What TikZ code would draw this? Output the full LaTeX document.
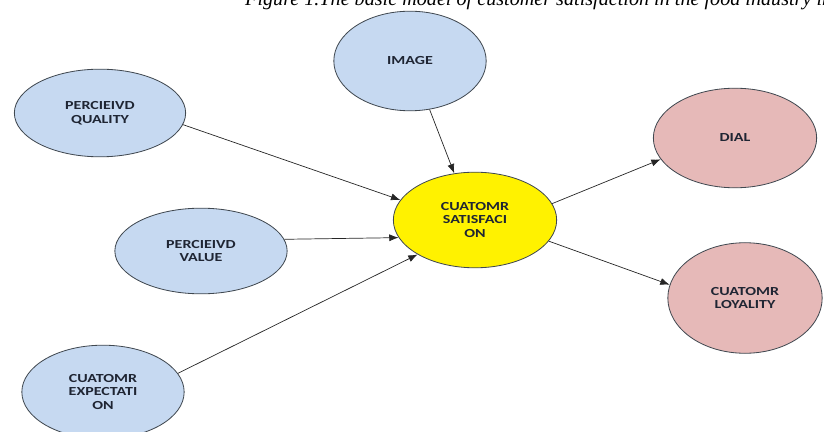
\documentclass[tikz,border=0pt]{standalone}
\usepackage{fontspec}
\setmainfont{Carlito}
\newfontfamily\bubblefont[FakeStretch=1.3]{Carlito}
\newfontfamily\capfont{Liberation Serif}
\usetikzlibrary{shapes.geometric,arrows.meta}
\definecolor{bubbleblue}{HTML}{C6D9F1}
\definecolor{bubblepink}{HTML}{E6B9B8}
\definecolor{rimgray}{HTML}{404850}
\definecolor{inkblue}{HTML}{1F2533}

\begin{document}
\begin{tikzpicture}[x=0.03cm,y=-0.03cm,
    bubble/.style={ellipse,draw=rimgray,line width=0.7pt,align=center,
      text=inkblue,font=\bubblefont\fontsize{10.5}{11.8}\selectfont\bfseries,inner sep=0pt},
    cause/.style={bubble,fill=bubbleblue},
    effect/.style={bubble,fill=bubblepink},
    link/.style={-{Latex[length=8pt,width=6pt]},line width=0.6pt,draw=black!85}]
            \useasboundingbox (0,0) rectangle (824,432);
            \node (cap) at (245,6) [anchor=base west,inner sep=0pt,font=\capfont\itshape\fontsize{17.2}{20}\selectfont] {Figure 1.The basic model of customer satisfaction in the food industry in};
            \node (qual) at (100,113) [cause,minimum width=172*0.85pt,minimum height=88*0.85pt] {PERCIEIVD\\QUALITY};
            \node (img) at (410,61) [cause,minimum width=153*0.85pt,minimum height=100*0.85pt] {IMAGE};
            \node (val) at (201,251) [cause,minimum width=173*0.85pt,minimum height=86*0.85pt] {PERCIEIVD\\VALUE};
            \node (expt) at (103,392) [cause,minimum width=163*0.85pt,minimum height=94*0.85pt] {CUATOMR\\EXPECTATI\\ON};
            \node (sat) at (475,220) [bubble,fill=yellow,minimum width=164*0.85pt,minimum height=96*0.85pt] {CUATOMR\\SATISFACI\\ON};
            \node (dial) at (735,138) [effect,minimum width=164*0.85pt,minimum height=100*0.85pt] {DIAL};
            \node (loyal) at (745,298) [effect,minimum width=155*0.85pt,minimum height=111*0.85pt] {CUATOMR\\LOYALITY};
            \draw[link] (qual.-8) -- (sat.165);
            \draw[link] (img.-68) -- (sat.114);
            \draw[link] (val.8) -- (sat.-167);
            \draw[link] (expt.14) -- (sat.-149);
            \draw[link] (sat.12) -- (dial.-164);
            \draw[link] (sat.-16) -- (loyal.170);
        \end{tikzpicture}
\end{document}
